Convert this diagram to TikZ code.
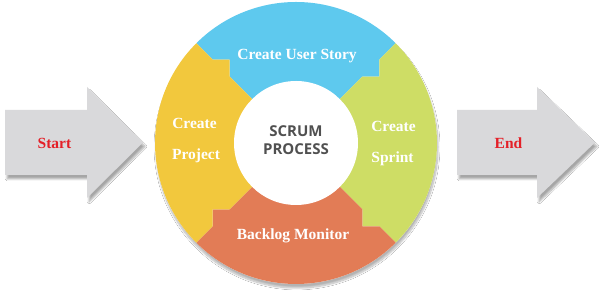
\documentclass[tikz,border=0pt]{standalone}
\usepackage{fontspec}
\setmainfont{Liberation Serif}
\newfontfamily\hubfont{Open Sans}
\usetikzlibrary{shadows.blur}

\definecolor{segblue}{RGB}{94,201,238}
\definecolor{seggreen}{RGB}{206,221,101}
\definecolor{segorange}{RGB}{226,124,86}
\definecolor{segyellow}{RGB}{242,200,61}
\definecolor{arrowgray}{RGB}{217,217,219}
\definecolor{labelred}{RGB}{228,32,40}
\definecolor{hubtext}{RGB}{80,80,80}

\tikzset{
  flowarrow/.style={fill=arrowgray,
    blur shadow={shadow xshift=2pt, shadow yshift=-4pt, shadow blur steps=8, shadow opacity=35}},
  steplabel/.style={anchor=base, text=white, font=\bfseries\fontsize{15.5}{18}\selectfont, inner sep=0pt},
  endlabel/.style={anchor=base, text=labelred, font=\bfseries\fontsize{15.5}{18}\selectfont, inner sep=0pt},
  hublabel/.style={anchor=base, text=hubtext, font=\hubfont\bfseries\fontsize{15}{18}\selectfont, inner sep=0pt},
}

\begin{document}
\begin{tikzpicture}[x=1pt, y=1pt]
  \useasboundingbox (0,0) rectangle (606,299);
  \fill[white] (0,0) rectangle (606,299);

  % entry and exit arrows
  \fill[flowarrow] (5,124) -- (87,124) -- (87,101) -- (143,156.5) -- (87,212) -- (87,189) -- (5,189) -- cycle;
  \fill[flowarrow] (457,124) -- (537,124) -- (537,101) -- (595,156.5) -- (537,212) -- (537,189) -- (457,189) -- cycle;
  \node[endlabel] (start) at (54.5,150) {Start};
  \node[endlabel] (end) at (508.5,150) {End};

  % the cycle wheel: four toothed quarter rings around a white hub
  \begin{scope}[shift={(296,156)}]
    \fill[white, blur shadow={shadow xshift=1pt, shadow yshift=-4pt, shadow blur steps=10, shadow opacity=30}] (0,0) circle[radius=141];
    \foreach \t/\c in {90/segblue, 0/seggreen, -90/segorange, 180/segyellow}{
      \pgfmathsetmacro\a{\t-45}
      \pgfmathsetmacro\b{\t+45}
      \fill[\c] (\b:60) -- (\b:94) -- (\b-6.46:106.68) -- (\b:118) -- (\b:141)
        arc[start angle=\b, end angle=\a, radius=141]
        -- (\a:118) -- (\a-6.46:106.68) -- (\a:94) -- (\a:60)
        arc[start angle=\a, end angle=\b, radius=60] -- cycle;
    }
    \fill[white] (0,0) circle[radius=62];
  \end{scope}

  % hub text
  \node[hublabel] (scrum) at (296,162) {SCRUM};
  \node[hublabel] (process) at (296,144) {PROCESS};

  % step labels
  \node[steplabel] (story) at (297,239) {Create User Story};
  \node[steplabel] (backlog) at (293,59) {Backlog Monitor};
  \node[steplabel] (project1) at (194.5,170) {Create};
  \node[steplabel] (project2) at (196,139) {Project};
  \node[steplabel] (sprint1) at (393.5,167) {Create};
  \node[steplabel] (sprint2) at (392.5,136) {Sprint};
\end{tikzpicture}
\end{document}
